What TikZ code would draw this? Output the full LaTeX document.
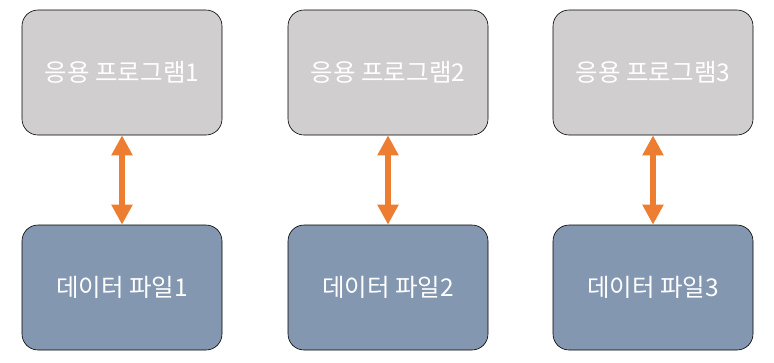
\documentclass[tikz,border=0pt]{standalone}
\usepackage{fontspec}
\setmainfont{Noto Sans CJK KR}
\usetikzlibrary{arrows.meta, positioning}
\definecolor{appgray}{HTML}{D0CECE}
\definecolor{fileblue}{HTML}{8497B0}
\definecolor{linkorange}{HTML}{ED7D31}

\begin{document}
\begin{tikzpicture}[x=1pt, y=-1pt,
    box/.style={draw=black, line width=0.6pt, rounded corners=16pt,
      minimum width=200pt, minimum height=125pt, inner sep=0pt,
      text=white, font=\fontsize{24.5pt}{28pt}\selectfont},
    appbox/.style={box, fill=appgray},
    filebox/.style={box, fill=fileblue},
    link/.style={linkorange, line width=6pt,
      {Triangle[width=20pt, length=20pt]}-{Triangle[width=20pt, length=20pt]}}]
  \useasboundingbox (0,0) rectangle (774,362);

  % programs
  \node[appbox] (app1) at (122,72.5) {응용 프로그램1};
  \node[appbox] (app2) at (388,72.5) {응용 프로그램2};
  \node[appbox] (app3) at (653,72.5) {응용 프로그램3};

  % data files
  \node[filebox] (file1) at (122,287.5) {데이터 파일1};
  \node[filebox] (file2) at (388,287.5) {데이터 파일2};
  \node[filebox] (file3) at (653,287.5) {데이터 파일3};

  % links
  \draw[link] (app1) -- (file1);
  \draw[link] (app2) -- (file2);
  \draw[link] (app3) -- (file3);
\end{tikzpicture}
\end{document}
